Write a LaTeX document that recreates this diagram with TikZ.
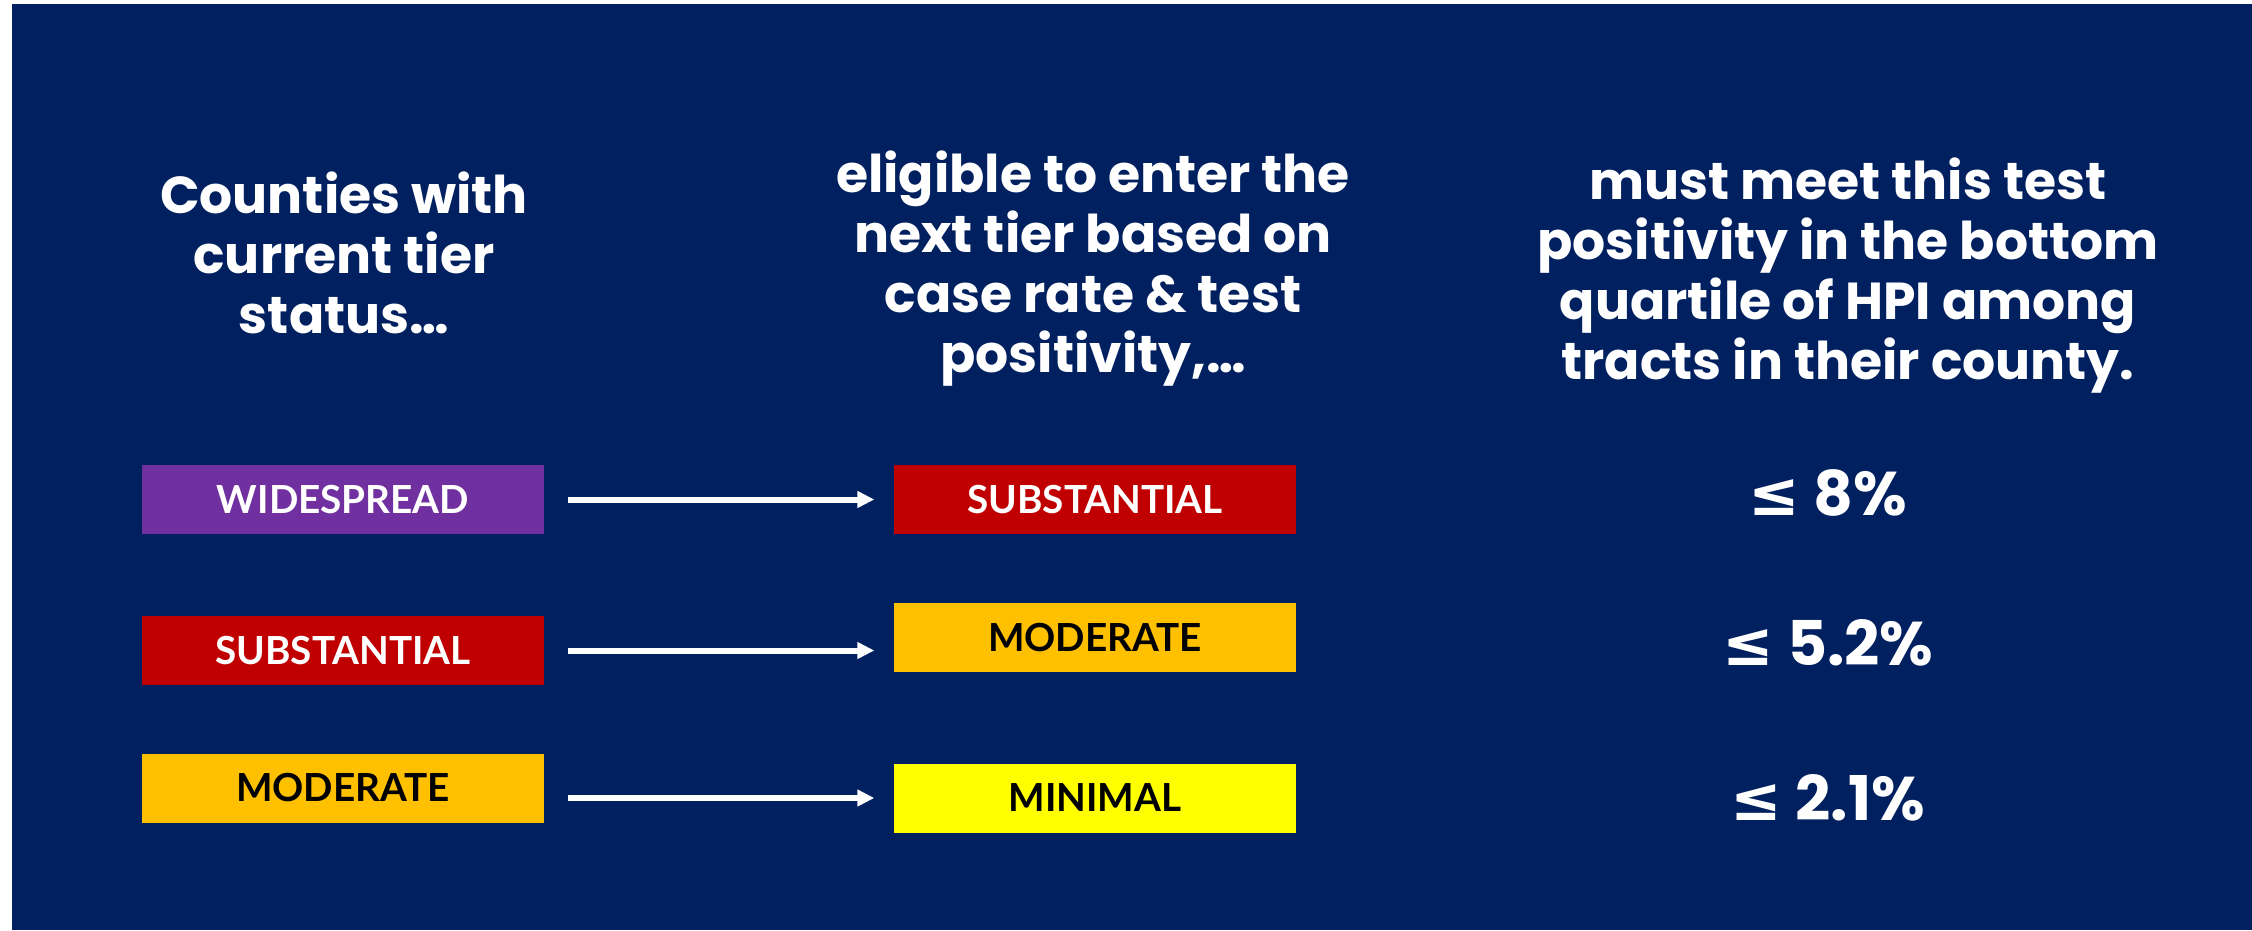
\documentclass[tikz,border=0pt]{standalone}
\usepackage{fontspec}
\setmainfont{Poppins}
\newfontfamily\boxfont{Lato}
\newfontfamily\symfont{DejaVu Sans}
\usetikzlibrary{arrows.meta}
\definecolor{navy}{HTML}{002060}
\definecolor{widepurple}{HTML}{7030A0}
\definecolor{substred}{HTML}{C00000}
\definecolor{modorange}{HTML}{FFC000}
\definecolor{minyellow}{HTML}{FFFF00}

\begin{document}
\begin{tikzpicture}[x=0.3pt,y=-0.3pt,
  tier/.style={minimum width=120.6pt, minimum height=20.7pt, inner sep=0pt, font=\boxfont\bfseries\fontsize{11.6}{14}\selectfont},
  head/.style={text=white, align=center, anchor=north, inner sep=0pt, font=\bfseries\fontsize{15.6}{18}\selectfont},
  pct/.style={text=white, inner sep=0pt, font=\bfseries\fontsize{18.5}{22}\selectfont},
  tierarrow/.style={white, line width=1.8pt, -{Triangle[length=5.1pt,width=4.8pt]}, shorten <=6.9pt, shorten >=5.7pt}]
\useasboundingbox (0,0) rectangle (2252,930);
\fill [navy] (12,4) rectangle (2252,930);
% column headings
\node (headcur) at (344,171) [head] {Counties with\\current tier\\status…};
\node (headnext) at (1093,150) [head] {eligible to enter the\\next tier based on\\case rate \& test\\positivity,…};
\node (headtest) at (1848,157) [head] {must meet this test\\positivity in the bottom\\quartile of HPI among\\tracts in their county.};
% current tier
\node (wide1) at (343,499.5) [tier, fill=widepurple, text=white] {WIDESPREAD};
\node (sub1) at (343,650.5) [tier, fill=substred, text=white] {SUBSTANTIAL};
\node (mod1) at (343,788) [tier, fill=modorange, text=black] {MODERATE};
% next tier
\node (sub2) at (1095,499.5) [tier, fill=substred, text=white] {SUBSTANTIAL};
\node (mod2) at (1095,637.5) [tier, fill=modorange, text=black] {MODERATE};
\node (min2) at (1095,798) [tier, fill=minyellow, text=black] {MINIMAL};
% arrows
\draw [tierarrow] (wide1.east) -- (sub2.west);
\draw [tierarrow] (sub1.east) -- (sub1.east -| mod2.west);
\draw [tierarrow] (mod1.east |- min2.west) -- (min2.west);
% test positivity
\node (pct8) at (1828,493) [pct] {{\symfont ≤} 8\%};
\node (pct52) at (1828,643) [pct] {{\symfont ≤} 5.2\%};
\node (pct21) at (1828,798) [pct] {{\symfont ≤} 2.1\%};
\end{tikzpicture}
\end{document}
